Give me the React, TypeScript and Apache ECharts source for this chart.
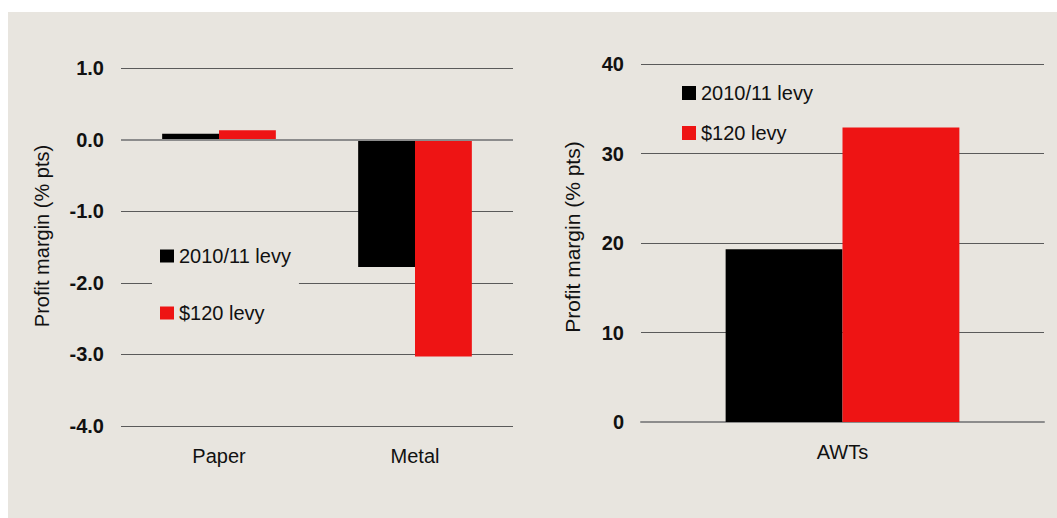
import React, { useEffect, useRef } from "react";
import * as echarts from "echarts";

const seriesNames = ["2010/11 levy", "$120 levy"];
const leftCategories = ["Paper", "Metal"];
const leftLevy201011 = [0.08, -1.78];
const leftLevy120 = [0.13, -3.03];
const rightCategories = ["AWTs"];
const rightLevy201011 = [19.3];
const rightLevy120 = [32.9];
const axisTitle = "Profit margin (% pts)";

const FONT = "'Liberation Sans', Arial, Helvetica, sans-serif";
const BG = "#E8E5DF";
const BLACK = "#000000";
const RED = "#EE1414";
const GRID = "#5a5a5a";
const TEXT = "#111111";

export default function App() {
  const ref = useRef<HTMLDivElement>(null);
  useEffect(() => {
    if (!ref.current) return;
    const chart = echarts.init(ref.current, null, { renderer: "svg" });
    const yLabel = {
      color: TEXT,
      fontFamily: FONT,
      fontSize: 20,
      fontWeight: "bold" as const,
      margin: 17,
    };
    const xLabel = { color: TEXT, fontFamily: FONT, fontSize: 20, margin: 20 };
    chart.setOption({
      animation: false,
      backgroundColor: BG,
      textStyle: { fontFamily: FONT },
      grid: [
        { left: 113, top: 56, width: 392, height: 358 },
        { left: 633, top: 52, width: 403, height: 358 },
      ],
      xAxis: [
        {
          type: "category",
          gridIndex: 0,
          data: leftCategories,
          axisLine: { show: false, onZero: false },
          axisTick: { show: false },
          axisLabel: xLabel,
        },
        {
          type: "category",
          gridIndex: 1,
          data: rightCategories,
          axisLine: { show: true, onZero: false, lineStyle: { color: "#8c8c8c", width: 2 } },
          axisTick: { show: false },
          axisLabel: xLabel,
        },
      ],
      yAxis: [
        {
          type: "value",
          gridIndex: 0,
          min: -4,
          max: 1,
          interval: 1,
          axisLine: { show: false },
          axisTick: { show: false },
          axisLabel: { ...yLabel, formatter: (v: number) => v.toFixed(1) },
          splitLine: { show: true, lineStyle: { color: GRID, width: 1 } },
        },
        {
          type: "value",
          gridIndex: 1,
          min: 0,
          max: 40,
          interval: 10,
          axisLine: { show: false },
          axisTick: { show: false },
          axisLabel: yLabel,
          splitLine: { show: true, lineStyle: { color: GRID, width: 1 } },
        },
      ],
      legend: [
        {
          data: seriesNames,
          orient: "vertical",
          left: 144,
          top: 224,
          padding: [10, 8, 10, 8],
          backgroundColor: BG,
          itemGap: 37,
          itemWidth: 14,
          itemHeight: 13,
          icon: "rect",
          selectedMode: false,
          textStyle: { color: TEXT, fontFamily: FONT, fontSize: 20 },
        },
        {
          data: seriesNames,
          orient: "vertical",
          left: 674,
          top: 71,
          padding: 0,
          itemGap: 20,
          itemWidth: 14,
          itemHeight: 14,
          icon: "rect",
          selectedMode: false,
          textStyle: { color: TEXT, fontFamily: FONT, fontSize: 20 },
        },
      ],
      graphic: [
        {
          type: "text",
          x: 34,
          y: 224,
          rotation: Math.PI / 2,
          style: {
            text: axisTitle,
            fill: TEXT,
            font: `20px ${FONT}`,
            align: "center",
            verticalAlign: "middle",
          },
        },
        {
          type: "text",
          x: 564,
          y: 225,
          rotation: Math.PI / 2,
          style: {
            text: axisTitle,
            fill: TEXT,
            font: `21px ${FONT}`,
            align: "center",
            verticalAlign: "middle",
          },
        },
      ],
      series: [
        {
          name: seriesNames[0],
          type: "bar",
          xAxisIndex: 0,
          yAxisIndex: 0,
          data: leftLevy201011,
          itemStyle: { color: BLACK },
          barGap: "0%",
          barCategoryGap: "42%",
          markLine: {
            silent: true,
            symbol: ["none", "none"],
            label: { show: false },
            lineStyle: { color: "#8c8c8c", width: 2, type: "solid" },
            data: [{ yAxis: 0 }],
          },
        },
        {
          name: seriesNames[1],
          type: "bar",
          xAxisIndex: 0,
          yAxisIndex: 0,
          data: leftLevy120,
          itemStyle: { color: RED },
          barGap: "0%",
          barCategoryGap: "42%",
        },
        {
          name: seriesNames[0],
          type: "bar",
          xAxisIndex: 1,
          yAxisIndex: 1,
          data: rightLevy201011,
          itemStyle: { color: BLACK },
          barGap: "0%",
          barCategoryGap: "42%",
        },
        {
          name: seriesNames[1],
          type: "bar",
          xAxisIndex: 1,
          yAxisIndex: 1,
          data: rightLevy120,
          itemStyle: { color: RED },
          barGap: "0%",
          barCategoryGap: "42%",
        },
      ],
    });
    return () => chart.dispose();
  }, []);
  return (
    <div
      ref={ref}
      style={{ position: "absolute", left: 8, top: 12, width: 1049, height: 506 }}
    />
  );
}
